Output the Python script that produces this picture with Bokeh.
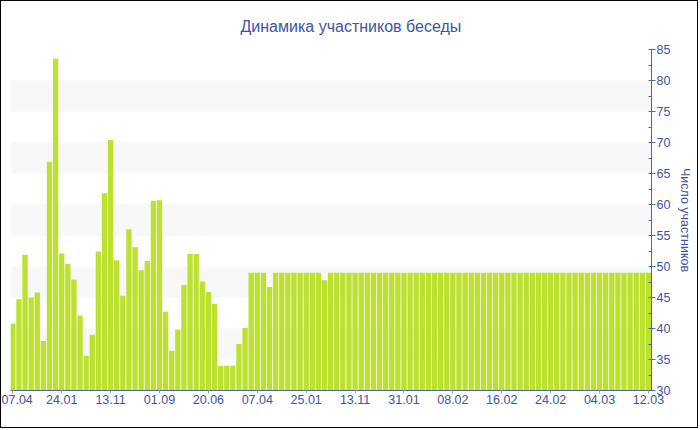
from bokeh.plotting import figure
from bokeh.models import Range1d, FixedTicker, SingleIntervalTicker, BoxAnnotation, ColumnDataSource
from bokeh.embed import file_html
from bokeh.resources import INLINE

# ---- data ----
values = [
    40.8, 44.7, 51.9, 45.0, 45.8, 38.0, 66.9, 83.5, 52.1, 50.4,
    47.9, 42.1, 35.6, 39.0, 52.4, 61.8, 70.4, 51.0, 45.3, 56.0,
    53.1, 49.4, 50.9, 60.6, 60.7, 42.7, 36.4, 39.8, 47.0, 52.0,
    52.0, 47.6, 45.9, 44.0, 34.0, 34.0, 34.0, 37.5, 40.1, 49.0,
    49.0, 49.0, 46.7, 49.0, 49.0, 49.0, 49.0, 49.0, 49.0, 49.0,
    49.0, 47.8, 49.0, 49.0, 49.0, 49.0, 49.0, 49.0, 49.0, 49.0,
    49.0, 49.0, 49.0, 49.0, 49.0, 49.0, 49.0, 49.0, 49.0, 49.0,
    49.0, 49.0, 49.0, 49.0, 49.0, 49.0, 49.0, 49.0, 49.0, 49.0,
    49.0, 49.0, 49.0, 49.0, 49.0, 49.0, 49.0, 49.0, 49.0, 49.0,
    49.0, 49.0, 49.0, 49.0, 49.0, 49.0, 49.0, 49.0, 49.0, 49.0,
    49.0, 49.0, 49.0, 49.0, 49.0,
]
tick_labels = ["07.04", "24.01", "13.11", "01.09", "20.06", "07.04", "25.01",
               "13.11", "31.01", "08.02", "16.02", "24.02", "04.03", "12.03"]
tick_step = 8
title_text = "Динамика участников беседы"
y_title = "Число участников"
y_min, y_max = 30, 85
band_ranges = [(35, 40), (45, 50), (55, 60), (65, 70), (75, 80)]

BLUE = "#3f54a2"
AXIS = "#5165ab"
BAR = "#bde12f"
FONT = "Liberation Sans"

idx = list(range(len(values)))
src = ColumnDataSource(dict(x=idx, top=values))

p = figure(width=698, height=428, output_backend="svg", toolbar_location=None,
           x_range=Range1d(-0.38, len(values) - 0.5), y_range=Range1d(y_min, y_max),
           y_axis_location="right", min_border_left=9, min_border_right=48,
           min_border_top=0, min_border_bottom=39)
p.styles = {"border": "1px solid black"}
p.title.text = title_text
p.title.align = "left"
p.title.text_font = FONT
p.title.text_font_size = "16px"
p.title.text_font_style = "normal"
p.title.text_color = BLUE
p.title.offset = 230
p.title.standoff = 29

p.outline_line_color = None
p.grid.visible = False
p.background_fill_color = "white"

for lo, hi in band_ranges:
    p.add_layout(BoxAnnotation(bottom=lo, top=hi, fill_color="#f8f8f8", fill_alpha=1.0,
                               line_color=None, level="underlay"))

p.vbar(x="x", top="top", bottom=y_min, width=0.87, source=src,
       fill_color=BAR, line_color=None)

# x axis
xa = p.xaxis[0]
ticks = [i * tick_step for i in range(len(tick_labels))]
xa.ticker = FixedTicker(ticks=ticks)
xa.major_label_overrides = {t: l for t, l in zip(ticks, tick_labels)}
xa.axis_line_color = AXIS
xa.major_tick_line_color = "#9aa3c4"
xa.major_tick_in = 0
xa.major_tick_out = 3
xa.minor_tick_line_color = None
xa.major_label_text_color = BLUE
xa.major_label_text_font = FONT
xa.major_label_text_font_size = "12.5px"
xa.major_label_standoff = 1

# y axis (right)
ya = p.yaxis[0]
ya.ticker = SingleIntervalTicker(interval=5, num_minor_ticks=2)
ya.axis_line_color = AXIS
ya.major_tick_line_color = AXIS
ya.major_tick_in = 2
ya.major_tick_out = 4
ya.minor_tick_line_color = AXIS
ya.minor_tick_in = 3
ya.minor_tick_out = 0
ya.major_label_text_color = BLUE
ya.major_label_text_font = FONT
ya.major_label_text_font_size = "12.5px"
ya.major_label_standoff = 1
ya.axis_label = y_title
ya.axis_label_text_color = BLUE
ya.axis_label_text_font = FONT
ya.axis_label_text_font_size = "12.5px"
ya.axis_label_text_font_style = "normal"
ya.axis_label_standoff = 5

open("out.html", "w").write(file_html(p, INLINE))
